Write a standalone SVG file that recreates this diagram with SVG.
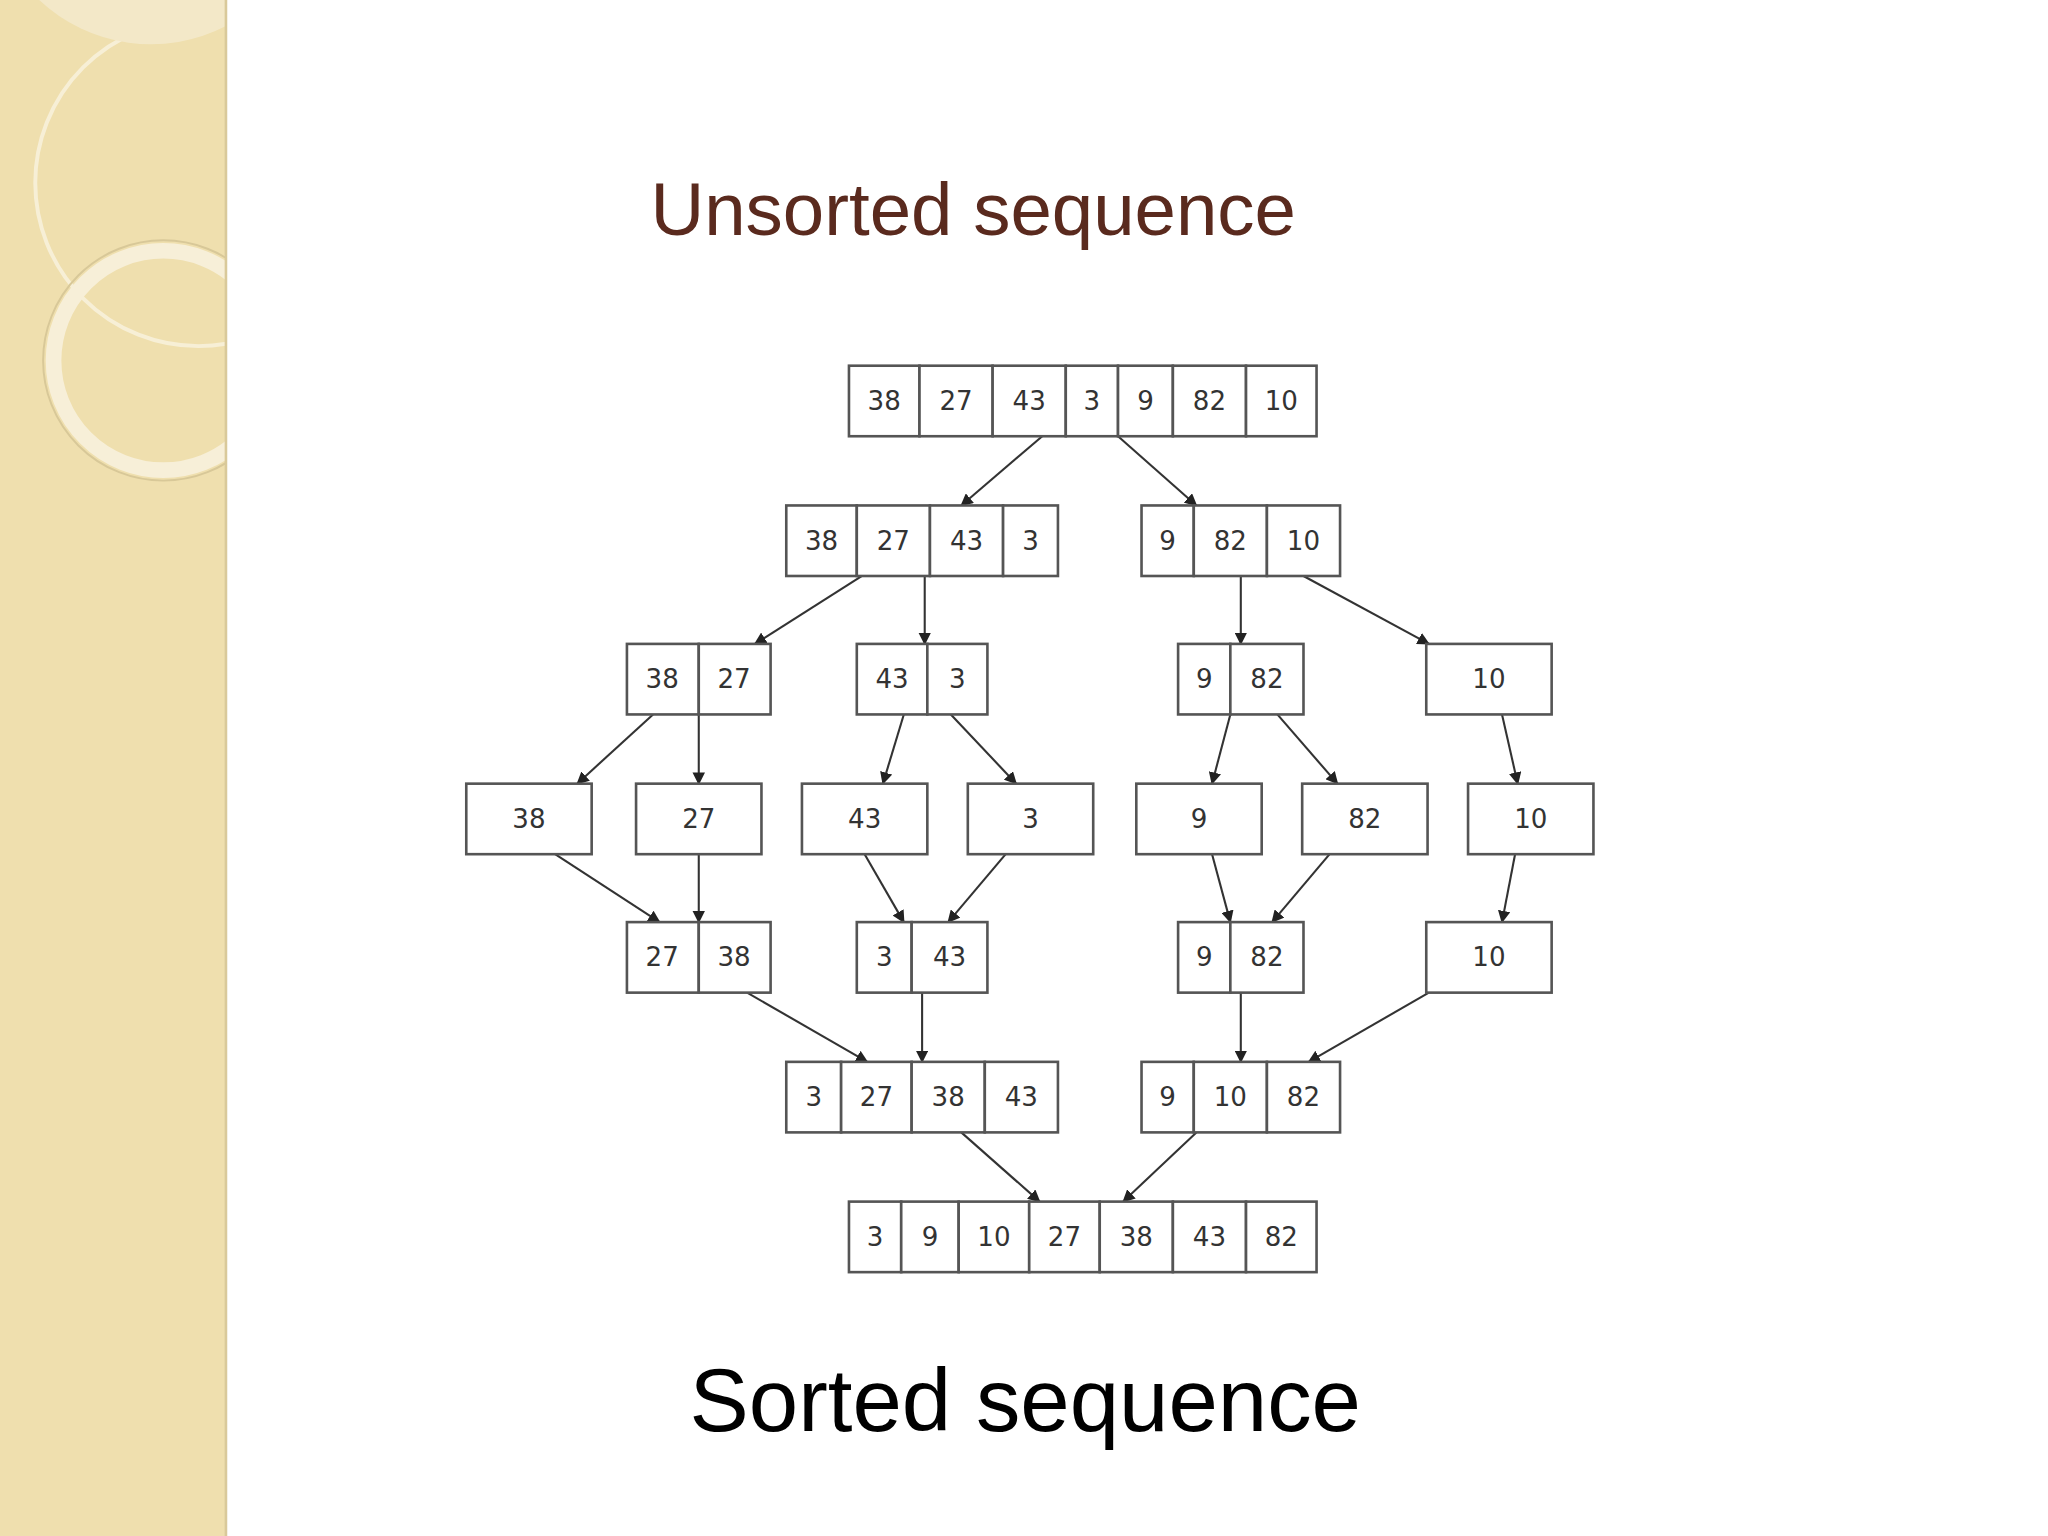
<svg xmlns="http://www.w3.org/2000/svg" width="2048" height="1536" viewBox="0 0 2048 1536">
<style>
.c{fill:#fff;stroke:#555;stroke-width:2}
.t{font-family:"DejaVu Sans",sans-serif;font-size:20px;fill:#333;text-anchor:middle;dominant-baseline:central}
.a{stroke:#333;stroke-width:1.6;fill:none;marker-end:url(#ar)}
</style>
<defs>
<marker id="ar" viewBox="0 0 10 10" refX="9" refY="5" markerWidth="6" markerHeight="6" orient="auto"><path d="M0,0L10,5L0,10z" fill="#222"/></marker>
<clipPath id="cp"><rect x="0" y="0" width="173" height="1176"/></clipPath>
</defs>
<rect width="2048" height="1536" fill="#fff"/>
<g transform="scale(1.3061)">
<g id="strip">
<rect x="0" y="0" width="173" height="1176" fill="#efdfae"/>
<g clip-path="url(#cp)" fill="none">
<circle cx="152" cy="140" r="125" stroke="#f7efd6" stroke-width="3"/>
<path d="M30,0 A125,125 0 0 0 173,20 L173,0z" fill="#f3e8c8" stroke="none"/>
<circle cx="125" cy="276" r="84" stroke="#f7efd8" stroke-width="12"/>
<circle cx="125" cy="276" r="92" stroke="#d8c898" stroke-width="1.5"/>
</g>
<line x1="173" y1="0" x2="173" y2="1176" stroke="#d9c99a" stroke-width="2"/>
</g>
<text id="title" x="498" y="180" font-family="Liberation Sans,Arial,sans-serif" font-size="57" fill="#5a2a1e">Unsorted sequence</text>
<text id="footer" x="528" y="1096" font-family="Liberation Sans,Arial,sans-serif" font-size="68" fill="#000">Sorted sequence</text>
<g id="connectors">
<line class="a" x1="798" y1="334" x2="736" y2="387"/>
<line class="a" x1="856" y1="334" x2="916" y2="387"/>
<line class="a" x1="660" y1="441" x2="578" y2="493"/>
<line class="a" x1="708" y1="441" x2="708" y2="493"/>
<line class="a" x1="950" y1="441" x2="950" y2="493"/>
<line class="a" x1="998" y1="441" x2="1094" y2="493"/>
<line class="a" x1="500" y1="547" x2="442" y2="600"/>
<line class="a" x1="535" y1="547" x2="535" y2="600"/>
<line class="a" x1="692" y1="547" x2="676" y2="600"/>
<line class="a" x1="728" y1="547" x2="778" y2="600"/>
<line class="a" x1="942" y1="547" x2="928" y2="600"/>
<line class="a" x1="978" y1="547" x2="1024" y2="600"/>
<line class="a" x1="1150" y1="547" x2="1162" y2="600"/>
<line class="a" x1="425" y1="654" x2="505" y2="706"/>
<line class="a" x1="535" y1="654" x2="535" y2="706"/>
<line class="a" x1="662" y1="654" x2="692" y2="706"/>
<line class="a" x1="770" y1="654" x2="726" y2="706"/>
<line class="a" x1="928" y1="654" x2="942" y2="706"/>
<line class="a" x1="1018" y1="654" x2="974" y2="706"/>
<line class="a" x1="1160" y1="654" x2="1150" y2="706"/>
<line class="a" x1="572" y1="760" x2="664" y2="813"/>
<line class="a" x1="706" y1="760" x2="706" y2="813"/>
<line class="a" x1="950" y1="760" x2="950" y2="813"/>
<line class="a" x1="1094" y1="760" x2="1002" y2="813"/>
<line class="a" x1="736" y1="867" x2="796" y2="920"/>
<line class="a" x1="916" y1="867" x2="860" y2="920"/>
</g>
<g id="r1">
<rect class="c" x="650" y="280" width="54" height="54"/><text class="t" x="677" y="307">38</text>
<rect class="c" x="704" y="280" width="56" height="54"/><text class="t" x="732" y="307">27</text>
<rect class="c" x="760" y="280" width="56" height="54"/><text class="t" x="788" y="307">43</text>
<rect class="c" x="816" y="280" width="40" height="54"/><text class="t" x="836" y="307">3</text>
<rect class="c" x="856" y="280" width="42" height="54"/><text class="t" x="877" y="307">9</text>
<rect class="c" x="898" y="280" width="56" height="54"/><text class="t" x="926" y="307">82</text>
<rect class="c" x="954" y="280" width="54" height="54"/><text class="t" x="981" y="307">10</text>
</g>
<g id="r2l">
<rect class="c" x="602" y="387" width="54" height="54"/><text class="t" x="629" y="414">38</text>
<rect class="c" x="656" y="387" width="56" height="54"/><text class="t" x="684" y="414">27</text>
<rect class="c" x="712" y="387" width="56" height="54"/><text class="t" x="740" y="414">43</text>
<rect class="c" x="768" y="387" width="42" height="54"/><text class="t" x="789" y="414">3</text>
</g>
<g id="r2r">
<rect class="c" x="874" y="387" width="40" height="54"/><text class="t" x="894" y="414">9</text>
<rect class="c" x="914" y="387" width="56" height="54"/><text class="t" x="942" y="414">82</text>
<rect class="c" x="970" y="387" width="56" height="54"/><text class="t" x="998" y="414">10</text>
</g>
<g id="r3a"><rect class="c" x="480" y="493" width="55" height="54"/><text class="t" x="507" y="520">38</text><rect class="c" x="535" y="493" width="55" height="54"/><text class="t" x="562" y="520">27</text></g>
<g id="r3b"><rect class="c" x="656" y="493" width="54" height="54"/><text class="t" x="683" y="520">43</text><rect class="c" x="710" y="493" width="46" height="54"/><text class="t" x="733" y="520">3</text></g>
<g id="r3c"><rect class="c" x="902" y="493" width="40" height="54"/><text class="t" x="922" y="520">9</text><rect class="c" x="942" y="493" width="56" height="54"/><text class="t" x="970" y="520">82</text></g>
<g id="r3d"><rect class="c" x="1092" y="493" width="96" height="54"/><text class="t" x="1140" y="520">10</text></g>
<g id="r4a"><rect class="c" x="357" y="600" width="96" height="54"/><text class="t" x="405" y="627">38</text></g>
<g id="r4b"><rect class="c" x="487" y="600" width="96" height="54"/><text class="t" x="535" y="627">27</text></g>
<g id="r4c"><rect class="c" x="614" y="600" width="96" height="54"/><text class="t" x="662" y="627">43</text></g>
<g id="r4d"><rect class="c" x="741" y="600" width="96" height="54"/><text class="t" x="789" y="627">3</text></g>
<g id="r4e"><rect class="c" x="870" y="600" width="96" height="54"/><text class="t" x="918" y="627">9</text></g>
<g id="r4f"><rect class="c" x="997" y="600" width="96" height="54"/><text class="t" x="1045" y="627">82</text></g>
<g id="r4g"><rect class="c" x="1124" y="600" width="96" height="54"/><text class="t" x="1172" y="627">10</text></g>
<g id="r5a"><rect class="c" x="480" y="706" width="55" height="54"/><text class="t" x="507" y="733">27</text><rect class="c" x="535" y="706" width="55" height="54"/><text class="t" x="562" y="733">38</text></g>
<g id="r5b"><rect class="c" x="656" y="706" width="42" height="54"/><text class="t" x="677" y="733">3</text><rect class="c" x="698" y="706" width="58" height="54"/><text class="t" x="727" y="733">43</text></g>
<g id="r5c"><rect class="c" x="902" y="706" width="40" height="54"/><text class="t" x="922" y="733">9</text><rect class="c" x="942" y="706" width="56" height="54"/><text class="t" x="970" y="733">82</text></g>
<g id="r5d"><rect class="c" x="1092" y="706" width="96" height="54"/><text class="t" x="1140" y="733">10</text></g>
<g id="r6l">
<rect class="c" x="602" y="813" width="42" height="54"/><text class="t" x="623" y="840">3</text>
<rect class="c" x="644" y="813" width="54" height="54"/><text class="t" x="671" y="840">27</text>
<rect class="c" x="698" y="813" width="56" height="54"/><text class="t" x="726" y="840">38</text>
<rect class="c" x="754" y="813" width="56" height="54"/><text class="t" x="782" y="840">43</text>
</g>
<g id="r6r">
<rect class="c" x="874" y="813" width="40" height="54"/><text class="t" x="894" y="840">9</text>
<rect class="c" x="914" y="813" width="56" height="54"/><text class="t" x="942" y="840">10</text>
<rect class="c" x="970" y="813" width="56" height="54"/><text class="t" x="998" y="840">82</text>
</g>
<g id="r7">
<rect class="c" x="650" y="920" width="40" height="54"/><text class="t" x="670" y="947">3</text>
<rect class="c" x="690" y="920" width="44" height="54"/><text class="t" x="712" y="947">9</text>
<rect class="c" x="734" y="920" width="54" height="54"/><text class="t" x="761" y="947">10</text>
<rect class="c" x="788" y="920" width="54" height="54"/><text class="t" x="815" y="947">27</text>
<rect class="c" x="842" y="920" width="56" height="54"/><text class="t" x="870" y="947">38</text>
<rect class="c" x="898" y="920" width="56" height="54"/><text class="t" x="926" y="947">43</text>
<rect class="c" x="954" y="920" width="54" height="54"/><text class="t" x="981" y="947">82</text>
</g>
</g>
</svg>
